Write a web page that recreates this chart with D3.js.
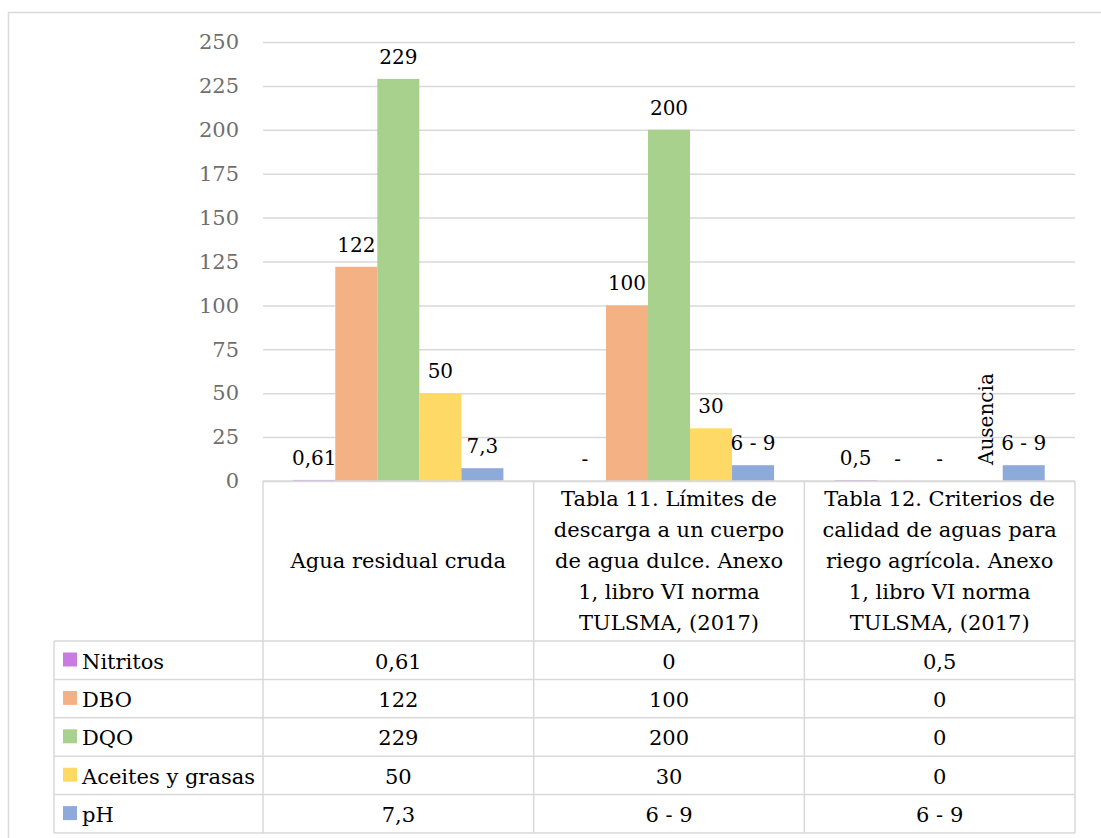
<!DOCTYPE html>
<html>
<head>
<meta charset="utf-8">
<script src="https://cdn.jsdelivr.net/npm/d3@7/dist/d3.min.js"></script>
<style>
  html, body { margin: 0; padding: 0; background: #fff; }
  svg { display: block; }
</style>
</head>
<body>
<svg id="chart" width="1101" height="838"></svg>
<script>
// Categories (column headers, already broken into lines)
const categoryLines = [
  ["Agua residual cruda"],
  ["Tabla 11. Límites de", "descarga a un cuerpo", "de agua dulce. Anexo", "1, libro VI norma", "TULSMA, (2017)"],
  ["Tabla 12. Criterios de", "calidad de aguas para", "riego agrícola. Anexo", "1, libro VI norma", "TULSMA, (2017)"]
];

// Series names and colours
const series = ["Nitritos", "DBO", "DQO", "Aceites y grasas", "pH"];
const seriesColors = ["#c77de0", "#f4b183", "#a9d18e", "#ffd966", "#8eaadb"];

// Plotted values, one per category
const nitritos = [0.61, 0, 0.5];
const dbo = [122, 100, 0];
const dqo = [229, 200, 0];
const aceites = [50, 30, 0];
const ph = [7.3, 9, 9];

// Labels written above the bars
const nitritosLabels = ["0,61", "-", "0,5"];
const dboLabels = ["122", "100", "-"];
const dqoLabels = ["229", "200", "-"];
const aceitesLabels = ["50", "30", "Ausencia"];
const phLabels = ["7,3", "6 - 9", "6 - 9"];

// Text shown in the data table
const nitritosTable = ["0,61", "0", "0,5"];
const dboTable = ["122", "100", "0"];
const dqoTable = ["229", "200", "0"];
const aceitesTable = ["50", "30", "0"];
const phTable = ["7,3", "6 - 9", "6 - 9"];

// Value axis ticks
const yTicks = [0, 25, 50, 75, 100, 125, 150, 175, 200, 225, 250];

const values = [nitritos, dbo, dqo, aceites, ph];
const labels = [nitritosLabels, dboLabels, dqoLabels, aceitesLabels, phLabels];
const tableText = [nitritosTable, dboTable, dqoTable, aceitesTable, phTable];

const FONT = "'DejaVu Serif', serif";
const svg = d3.select("#chart").style("font-family", FONT);
const gridColor = "#d9d9d9";

const plotLeft = 263, plotRight = 1075, plotTop = 42, plotBottom = 481;
const headerBottom = 641, rowH = 38.4, tableLeft = 54;
const tableBottom = headerBottom + rowH * series.length;

// Outer frame
svg.append("rect")
  .attr("x", 8.5).attr("y", 12.5)
  .attr("width", 1110).attr("height", 840)
  .attr("fill", "none").attr("stroke", gridColor).attr("stroke-width", 1.5);

const x0 = d3.scaleBand().domain(d3.range(categoryLines.length)).range([plotLeft, plotRight]);
const x1 = d3.scaleBand().domain(series).range([0, x0.bandwidth()]).paddingOuter(0.72);
const y = d3.scaleLinear().domain([0, 250]).range([plotBottom, plotTop]);

// Value axis with gridlines
const yAxis = svg.append("g")
  .attr("transform", `translate(${plotLeft},0)`)
  .call(d3.axisLeft(y).tickValues(yTicks).tickSize(-(plotRight - plotLeft)).tickPadding(24));
yAxis.attr("font-family", null).attr("font-size", null);
yAxis.select(".domain").remove();
yAxis.selectAll(".tick line").attr("stroke", gridColor).attr("stroke-width", 1.5);
yAxis.selectAll(".tick text")
  .attr("fill", "#6f6f6f")
  .style("font-family", FONT)
  .style("font-size", "21px");

// Bars
series.forEach((s, i) => {
  svg.append("g").selectAll("rect")
    .data(values[i])
    .join("rect")
    .attr("x", (d, j) => x0(j) + x1(s))
    .attr("y", d => y(d))
    .attr("width", x1.bandwidth())
    .attr("height", d => y(0) - y(d))
    .attr("fill", seriesColors[i]);
});

// Bar labels
series.forEach((s, i) => {
  values[i].forEach((v, j) => {
    const cx = x0(j) + x1(s) + x1.bandwidth() / 2;
    const txt = labels[i][j];
    const t = svg.append("text")
      .attr("fill", "#000")
      .style("font-family", FONT)
      .style("font-size", "20px")
      .text(txt);
    if (txt === "Ausencia") {
      t.attr("transform", `translate(${cx + 11},${y(v) - 16}) rotate(-90)`)
        .attr("text-anchor", "start");
    } else {
      t.attr("x", cx).attr("y", y(v) - 15).attr("text-anchor", "middle");
    }
  });
});

// Category header cells and data table grid
const lines = svg.append("g").attr("stroke", gridColor).attr("stroke-width", 1.5);
lines.append("line").attr("x1", plotLeft).attr("x2", plotRight).attr("y1", y(0)).attr("y2", y(0));
const colEdges = [plotLeft].concat(d3.range(categoryLines.length).map(j => x0(j) + x0.bandwidth()));
colEdges.forEach(xv => {
  lines.append("line").attr("x1", xv).attr("x2", xv).attr("y1", plotBottom).attr("y2", tableBottom);
});
lines.append("line").attr("x1", tableLeft).attr("x2", tableLeft).attr("y1", headerBottom).attr("y2", tableBottom);
d3.range(series.length + 1).forEach(r => {
  const yy = headerBottom + r * rowH;
  lines.append("line").attr("x1", tableLeft).attr("x2", plotRight).attr("y1", yy).attr("y2", yy);
});

// Category header text
const headerMid = (plotBottom + headerBottom) / 2;
const lineH = 31;
categoryLines.forEach((ls, j) => {
  const cx = x0(j) + x0.bandwidth() / 2;
  const t = svg.append("text")
    .attr("text-anchor", "middle")
    .attr("fill", "#000")
    .style("font-family", FONT)
    .style("font-size", "21px");
  ls.forEach((l, k) => {
    t.append("tspan")
      .attr("x", cx)
      .attr("y", headerMid + (k - (ls.length - 1) / 2) * lineH)
      .attr("dy", "0.35em")
      .text(l);
  });
});

// Table rows: legend key, series name, values
series.forEach((s, i) => {
  const top = headerBottom + i * rowH;
  const mid = top + rowH / 2 + 1;
  svg.append("rect")
    .attr("x", 63).attr("y", top + 11.5)
    .attr("width", 14).attr("height", 14)
    .attr("fill", seriesColors[i]);
  svg.append("text")
    .attr("x", 82).attr("y", mid).attr("dy", "0.35em")
    .attr("fill", "#000")
    .style("font-family", FONT)
    .style("font-size", "21px")
    .text(s);
  tableText[i].forEach((txt, j) => {
    svg.append("text")
      .attr("x", x0(j) + x0.bandwidth() / 2)
      .attr("y", mid).attr("dy", "0.35em")
      .attr("text-anchor", "middle")
      .attr("fill", "#000")
      .style("font-family", FONT)
      .style("font-size", "21px")
      .text(txt);
  });
});
</script>
</body>
</html>
